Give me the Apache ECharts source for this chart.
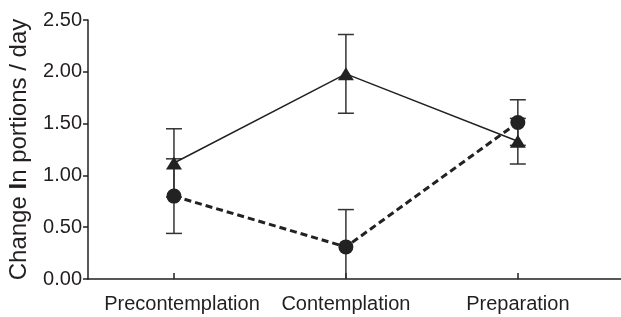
<!DOCTYPE html>
<html>
<head>
<meta charset="utf-8">
<script src="https://cdn.jsdelivr.net/npm/echarts@6/dist/echarts.min.js"></script>
<style>
html, body { margin: 0; padding: 0; background: #fff; }
#chart { width: 621px; height: 317px; }
</style>
</head>
<body>
<div id="chart"></div>
<script>
var dark = '#231f20';
var font = 'Liberation Sans, Arial, sans-serif';
var stages = ['Precontemplation', 'Contemplation', 'Preparation'];
var stagePos = [0.5, 1.5, 2.5];
var yTicks = [0, 0.5, 1, 1.5, 2, 2.5];

// triangles, solid line
var triMean = [1.12, 1.98, 1.33];
var triErr = [0.33, 0.38, 0.22];
// circles, dashed line
var dotMean = [0.80, 0.31, 1.51];
var dotErr = [0.36, 0.36, 0.22];

function pairs(vals) {
	var out = [];
	for (var i = 0; i < vals.length; i++) {
		out.push([stagePos[i], vals[i]]);
	}
	return out;
}
function errRows(mean, err) {
	var out = [];
	for (var i = 0; i < mean.length; i++) {
		out.push([stagePos[i], Math.max(0, mean[i] - err[i]), mean[i] + err[i]]);
	}
	return out;
}

// whisker with caps
function renderErr(params, api) {
	var lo = api.coord([api.value(0), api.value(1)]);
	var hi = api.coord([api.value(0), api.value(2)]);
	var half = 8;
	var style = { stroke: '#333', lineWidth: 1.5 };
	var kids = [
		{ type: 'line', shape: { x1: hi[0], y1: hi[1], x2: lo[0], y2: lo[1] }, style: style },
		{ type: 'line', shape: { x1: hi[0] - half, y1: hi[1], x2: hi[0] + half, y2: hi[1] }, style: style }
	];
	if (api.value(1) > 0) {
		kids.push({ type: 'line', shape: { x1: lo[0] - half, y1: lo[1], x2: lo[0] + half, y2: lo[1] }, style: style });
	}
	return { type: 'group', children: kids };
}

var chart = echarts.init(document.getElementById('chart'));
chart.setOption({
	animation: false,
	grid: { left: 88, right: 0, top: 20, bottom: 38, outerBoundsMode: 'none' },
	xAxis: {
		type: 'value',
		min: 0,
		max: 3.1,
		splitLine: { show: false },
		axisLine: { lineStyle: { color: dark, width: 1.5 } },
		axisTick: { show: true, inside: true, length: 6, customValues: stagePos, lineStyle: { color: dark, width: 1.5 } },
		axisLabel: {
			customValues: stagePos,
			margin: 15,
			color: dark,
			fontSize: 20,
			fontFamily: font,
			formatter: function (v) {
				var i = stagePos.indexOf(v);
				if (i < 0) return '';
				return i === 0 ? '{p|' + stages[i] + '}' : stages[i];
			},
			rich: { p: { padding: [0, 0, 0, 16], fontSize: 20, fontFamily: font, color: dark } }
		}
	},
	yAxis: {
		type: 'value',
		min: yTicks[0],
		max: yTicks[yTicks.length - 1],
		interval: 0.5,
		name: 'Change {b|I}n portions / day',
		nameLocation: 'middle',
		nameGap: 57,
		nameTextStyle: {
			color: dark,
			fontSize: 24,
			fontFamily: font,
			rich: { b: { fontWeight: 'bold', fontSize: 24, fontFamily: font, color: dark } }
		},
		splitLine: { show: false },
		axisLine: { show: true, lineStyle: { color: dark, width: 1.5 } },
		axisTick: { show: true, length: 5, lineStyle: { color: dark, width: 1.5 } },
		axisLabel: {
			margin: 6,
			color: dark,
			fontSize: 20,
			fontFamily: font,
			formatter: function (v) { return v.toFixed(2); }
		}
	},
	series: [
		{
			type: 'custom',
			renderItem: renderErr,
			data: errRows(triMean, triErr),
			z: 1
		},
		{
			type: 'custom',
			renderItem: renderErr,
			data: errRows(dotMean, dotErr),
			z: 1
		},
		{
			type: 'line',
			data: pairs(triMean),
			symbol: 'triangle',
			symbolSize: [16, 13],
			lineStyle: { color: '#222', width: 1.5 },
			itemStyle: { color: '#222' },
			z: 3
		},
		{
			type: 'line',
			data: pairs(dotMean),
			symbol: 'circle',
			symbolSize: 15,
			lineStyle: { color: '#222', width: 3, type: [7, 4] },
			itemStyle: { color: '#222' },
			z: 3
		}
	]
});
</script>
</body>
</html>
